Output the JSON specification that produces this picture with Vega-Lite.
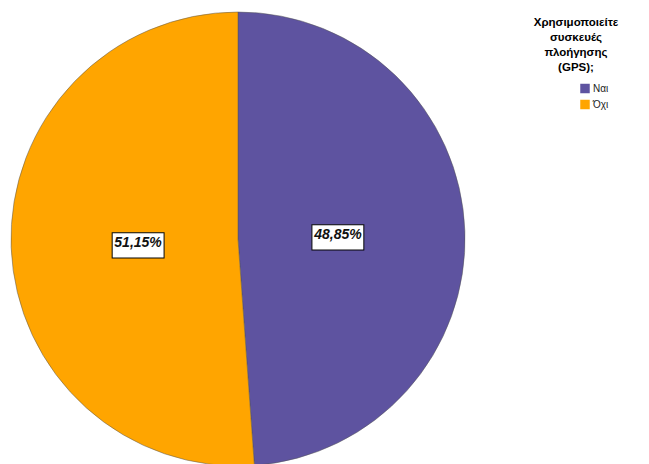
{
  "$schema": "https://vega.github.io/schema/vega-lite/v6.json",
  "autosize": "none",
  "padding": {"left": 0, "top": 0, "right": 173, "bottom": 0},
  "width": 476,
  "height": 478,
  "background": "white",
  "data": {"values": [
    {"answer": "Ναι", "pct": 48.85, "label": "48,85%", "idx": 1},
    {"answer": "Όχι", "pct": 51.15, "label": "51,15%", "idx": 2}
  ]},
  "encoding": {
    "theta": {"field": "pct", "type": "quantitative", "stack": true},
    "order": {"field": "idx", "type": "quantitative"}
  },
  "layer": [
    {
      "mark": {"type": "arc", "outerRadius": 227, "stroke": "#555555", "strokeWidth": 0.5},
      "encoding": {
        "color": {
          "field": "answer", "type": "nominal",
          "scale": {"domain": ["Ναι", "Όχι"], "range": ["#5E53A0", "#FFA500"]},
          "legend": {
            "title": ["Χρησιμοποιείτε", "συσκευές", "πλοήγησης", "(GPS);"],
            "orient": "none",
            "legendX": 534,
            "legendY": 17,
            "titleAlign": "center",
            "titleAnchor": "middle",
            "titleFont": "Liberation Sans",
            "titleFontSize": 11.5,
            "titleFontWeight": "bold",
            "titleColor": "#000000",
            "titleLineHeight": 15,
            "titlePadding": 10,
            "symbolType": "square",
            "symbolSize": 90,
            "symbolStrokeWidth": 0,
            "symbolOffset": 36,
            "labelFont": "Liberation Sans",
            "labelFontSize": 10,
            "labelColor": "#222222",
            "labelOffset": 3,
            "rowPadding": 6
          }
        }
      }
    },
    {
      "mark": {"type": "text", "text": "▬", "font": "DejaVu Sans", "fontSize": 68, "fill": "white", "stroke": "black", "strokeWidth": 1, "align": "center", "baseline": "middle"},
      "encoding": {"radius": {"value": 100}}
    },
    {
      "mark": {"type": "text", "font": "Liberation Sans", "fontSize": 14, "fontWeight": "bold", "fontStyle": "italic", "color": "#111111", "align": "center", "baseline": "middle"},
      "encoding": {"radius": {"value": 100}, "text": {"field": "label"}}
    }
  ]
}
